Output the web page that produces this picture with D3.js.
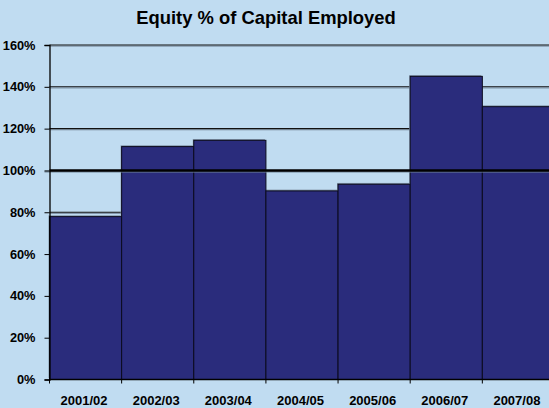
<!DOCTYPE html>
<html><head><meta charset="utf-8">
<script src="https://cdn.jsdelivr.net/npm/d3@7"></script>
<style>html,body{margin:0;padding:0;background:#C0DCF1;overflow:hidden}svg{display:block}</style>
</head><body>
<svg id="c" width="549" height="408"></svg>
<script>
const title = "Equity % of Capital Employed";
const categories = ["2001/02","2002/03","2003/04","2004/05","2005/06","2006/07","2007/08"];
const values = [77.9, 111.4, 114.4, 90.2, 93.4, 145.0, 130.5];
const yTicks = [0,20,40,60,80,100,120,140,160];
const refValue = 100;

(function(){
const svg = d3.select("#c");
const W = 549, H = 408;
const pLeft = 49.5, pTop = 45, pBottom = 379.5, bandW = 72.14;
const x = d3.scaleBand().domain(categories).range([pLeft, pLeft + bandW*categories.length]).padding(0);
const y = d3.scaleLinear().domain([0,160]).range([pBottom, pTop]);

svg.append("rect").attr("width",W).attr("height",H).attr("fill","#C0DCF1");

// title
svg.append("text").attr("x",266).attr("y",23.5).attr("text-anchor","middle")
  .attr("font-family","Liberation Sans, Arial, sans-serif").attr("font-weight","bold")
  .attr("font-size","18.4px").attr("fill","#000").text(title);

// gridlines with shadow
const grid = svg.append("g");
yTicks.filter(t=>t>0 && t!==refValue).forEach(t=>{
  grid.append("line").attr("x1",pLeft).attr("x2",W).attr("y1",y(t)+1.2).attr("y2",y(t)+1.2)
    .attr("stroke","#7f93a6").attr("stroke-width",1);
  grid.append("line").attr("x1",pLeft).attr("x2",W).attr("y1",y(t)).attr("y2",y(t))
    .attr("stroke","#111").attr("stroke-width",1.1);
});

// bars: shadow then bar
svg.append("g").selectAll("rect").data(values).join("rect")
  .attr("x",(d,i)=>x(categories[i])-1).attr("y",d=>y(d)-1.3)
  .attr("width",x.bandwidth()).attr("height",d=>pBottom-y(d))
  .attr("fill","#7f93a6");
svg.append("g").selectAll("rect").data(values).join("rect")
  .attr("x",(d,i)=>x(categories[i])).attr("y",d=>y(d))
  .attr("width",x.bandwidth()).attr("height",d=>pBottom-y(d))
  .attr("fill","#2A2C7C").attr("stroke","#0b0b1e").attr("stroke-width",1);

// reference 100% line
svg.append("line").attr("x1",pLeft-5).attr("x2",W).attr("y1",y(refValue)+1.5).attr("y2",y(refValue)+1.5)
  .attr("stroke","#6f8396").attr("stroke-width",1.2);
svg.append("line").attr("x1",pLeft).attr("x2",W).attr("y1",y(refValue)).attr("y2",y(refValue))
  .attr("stroke","#000").attr("stroke-width",2.4);

// y axis
const ya = svg.append("g").attr("transform",`translate(${pLeft},0)`)
  .call(d3.axisLeft(y).tickValues(yTicks).tickFormat(d=>d+"%").tickSize(5).tickPadding(9));
ya.select(".domain").attr("stroke","#000").attr("stroke-width",1.3);
ya.selectAll(".tick line").attr("stroke","#000");
ya.selectAll("text").attr("font-family","Liberation Sans, Arial, sans-serif").attr("font-weight","bold")
  .attr("font-size","12.8px").attr("fill","#000");

// x axis
const boundaries = categories.map(c=>x(c));
const xa = svg.append("g");
xa.append("line").attr("x1",pLeft).attr("x2",W).attr("y1",pBottom).attr("y2",pBottom)
  .attr("stroke","#000").attr("stroke-width",1.3);
xa.selectAll("line.t").data(boundaries).join("line").attr("class","t")
  .attr("x1",d=>d).attr("x2",d=>d).attr("y1",pBottom).attr("y2",pBottom+4)
  .attr("stroke","#000").attr("stroke-width",1);
xa.selectAll("text").data(categories).join("text")
  .attr("x",d=>x(d)+x.bandwidth()/2-1.5).attr("y",405)
  .attr("text-anchor","middle").attr("font-family","Liberation Sans, Arial, sans-serif")
  .attr("font-weight","bold").attr("font-size","13px").attr("fill","#000").text(d=>d);
})();
</script>
</body></html>
